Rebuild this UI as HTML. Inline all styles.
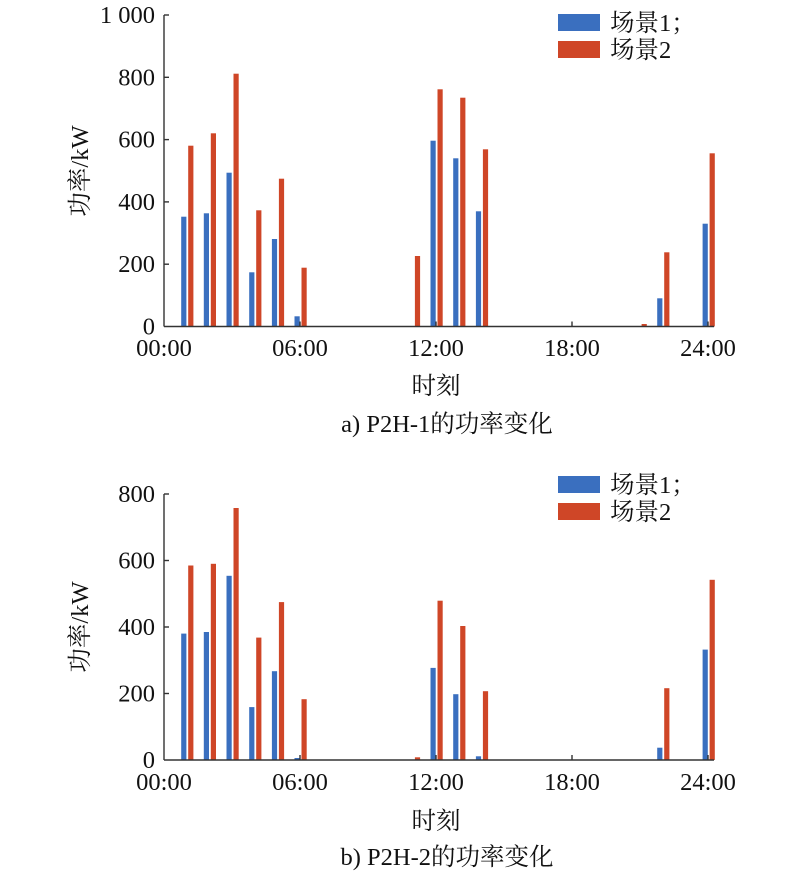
<!DOCTYPE html>
<html><head><meta charset="utf-8"><style>
body{margin:0;background:#fff}
text{font-family:"Liberation Serif","Noto Serif CJK SC",serif;fill:#111;font-size:24.5px}
.b{fill:#3a6fbf}.r{fill:#cf4627}
line{stroke:#333;stroke-width:1.4}
</style></head><body>
<svg width="800" height="871" xmlns="http://www.w3.org/2000/svg">
<g>
<rect class="b" x="181.2" y="216.7" width="5.2" height="109.8"/><rect class="r" x="188.2" y="145.7" width="5.2" height="180.8"/>
<rect class="b" x="203.8" y="213.3" width="5.2" height="113.2"/><rect class="r" x="210.8" y="133.3" width="5.2" height="193.2"/>
<rect class="b" x="226.5" y="172.7" width="5.2" height="153.8"/><rect class="r" x="233.5" y="73.7" width="5.2" height="252.8"/>
<rect class="b" x="249.2" y="272.3" width="5.2" height="54.2"/><rect class="r" x="256.2" y="210.3" width="5.2" height="116.2"/>
<rect class="b" x="271.9" y="239" width="5.2" height="87.5"/><rect class="r" x="278.9" y="178.7" width="5.2" height="147.8"/>
<rect class="b" x="294.5" y="316.3" width="5.2" height="10.2"/><rect class="r" x="301.5" y="267.7" width="5.2" height="58.8"/>
<rect class="r" x="414.9" y="256" width="5.2" height="70.5"/>
<rect class="b" x="430.5" y="140.7" width="5.2" height="185.8"/><rect class="r" x="437.5" y="89.3" width="5.2" height="237.2"/>
<rect class="b" x="453.2" y="158.3" width="5.2" height="168.2"/><rect class="r" x="460.2" y="97.7" width="5.2" height="228.8"/>
<rect class="b" x="475.9" y="211.3" width="5.2" height="115.2"/><rect class="r" x="482.9" y="149.3" width="5.2" height="177.2"/>
<rect class="r" x="641.6" y="324" width="5.2" height="2.5"/>
<rect class="b" x="657.2" y="298.3" width="5.2" height="28.2"/><rect class="r" x="664.2" y="252.3" width="5.2" height="74.2"/>
<rect class="b" x="702.6" y="223.7" width="5.2" height="102.8"/><rect class="r" x="709.6" y="153.3" width="5.2" height="173.2"/>
<line x1="164" y1="15" x2="164" y2="326.5"/><line x1="164" y1="326.5" x2="714" y2="326.5"/>
<line x1="164" y1="15" x2="169" y2="15"/><line x1="164" y1="77.3" x2="169" y2="77.3"/><line x1="164" y1="139.6" x2="169" y2="139.6"/><line x1="164" y1="201.9" x2="169" y2="201.9"/><line x1="164" y1="264.2" x2="169" y2="264.2"/>
<line x1="300" y1="326.5" x2="300" y2="321.5"/><line x1="436" y1="326.5" x2="436" y2="321.5"/><line x1="572" y1="326.5" x2="572" y2="321.5"/><line x1="708" y1="326.5" x2="708" y2="321.5"/>
<text x="155" y="23" text-anchor="end">1 000</text>
<text x="155" y="85.3" text-anchor="end">800</text>
<text x="155" y="147.6" text-anchor="end">600</text>
<text x="155" y="209.9" text-anchor="end">400</text>
<text x="155" y="272.2" text-anchor="end">200</text>
<text x="155" y="334.5" text-anchor="end">0</text>
<text x="164" y="356" text-anchor="middle">00:00</text>
<text x="300" y="356" text-anchor="middle">06:00</text>
<text x="436" y="356" text-anchor="middle">12:00</text>
<text x="572" y="356" text-anchor="middle">18:00</text>
<text x="708" y="356" text-anchor="middle">24:00</text>
<text transform="translate(88,171) rotate(-90)" text-anchor="middle">功率/kW</text>
<text x="436" y="394" text-anchor="middle">时刻</text>
<text x="447" y="432" text-anchor="middle">a) P2H-1的功率变化</text>
<rect class="b" x="558" y="14" width="42" height="17"/><rect class="r" x="558" y="41" width="42" height="17"/>
<text x="610" y="31">场景1；</text><text x="610" y="58">场景2</text>
</g>
<g>
<rect class="b" x="181.2" y="633.6" width="5.2" height="126.4"/><rect class="r" x="188.2" y="565.5" width="5.2" height="194.5"/>
<rect class="b" x="203.8" y="632" width="5.2" height="128"/><rect class="r" x="210.8" y="563.8" width="5.2" height="196.2"/>
<rect class="b" x="226.5" y="575.8" width="5.2" height="184.2"/><rect class="r" x="233.5" y="508" width="5.2" height="252"/>
<rect class="b" x="249.2" y="707.1" width="5.2" height="52.9"/><rect class="r" x="256.2" y="637.6" width="5.2" height="122.4"/>
<rect class="b" x="271.9" y="671.2" width="5.2" height="88.8"/><rect class="r" x="278.9" y="602.1" width="5.2" height="157.9"/>
<rect class="b" x="294.5" y="758" width="5.2" height="2"/><rect class="r" x="301.5" y="699.2" width="5.2" height="60.8"/>
<rect class="r" x="414.9" y="757.3" width="5.2" height="2.7"/>
<rect class="b" x="430.5" y="667.9" width="5.2" height="92.1"/><rect class="r" x="437.5" y="600.7" width="5.2" height="159.3"/>
<rect class="b" x="453.2" y="694.2" width="5.2" height="65.8"/><rect class="r" x="460.2" y="626" width="5.2" height="134"/>
<rect class="b" x="475.9" y="756.3" width="5.2" height="3.7"/><rect class="r" x="482.9" y="691.2" width="5.2" height="68.8"/>
<rect class="b" x="657.2" y="747.7" width="5.2" height="12.3"/><rect class="r" x="664.2" y="688.2" width="5.2" height="71.8"/>
<rect class="b" x="702.6" y="649.6" width="5.2" height="110.4"/><rect class="r" x="709.6" y="579.8" width="5.2" height="180.2"/>
<line x1="164" y1="494" x2="164" y2="760"/><line x1="164" y1="760" x2="714" y2="760"/>
<line x1="164" y1="494" x2="169" y2="494"/><line x1="164" y1="560.5" x2="169" y2="560.5"/><line x1="164" y1="627" x2="169" y2="627"/><line x1="164" y1="693.5" x2="169" y2="693.5"/>
<line x1="300" y1="760" x2="300" y2="755"/><line x1="436" y1="760" x2="436" y2="755"/><line x1="572" y1="760" x2="572" y2="755"/><line x1="708" y1="760" x2="708" y2="755"/>
<text x="155" y="502" text-anchor="end">800</text>
<text x="155" y="568.5" text-anchor="end">600</text>
<text x="155" y="635" text-anchor="end">400</text>
<text x="155" y="701.5" text-anchor="end">200</text>
<text x="155" y="768" text-anchor="end">0</text>
<text x="164" y="790" text-anchor="middle">00:00</text>
<text x="300" y="790" text-anchor="middle">06:00</text>
<text x="436" y="790" text-anchor="middle">12:00</text>
<text x="572" y="790" text-anchor="middle">18:00</text>
<text x="708" y="790" text-anchor="middle">24:00</text>
<text transform="translate(88,627) rotate(-90)" text-anchor="middle">功率/kW</text>
<text x="436" y="829" text-anchor="middle">时刻</text>
<text x="447" y="865" text-anchor="middle">b) P2H-2的功率变化</text>
<rect class="b" x="558" y="476" width="42" height="17"/><rect class="r" x="558" y="503" width="42" height="17"/>
<text x="610" y="493">场景1；</text><text x="610" y="520">场景2</text>
</g>
</svg>
</body></html>
